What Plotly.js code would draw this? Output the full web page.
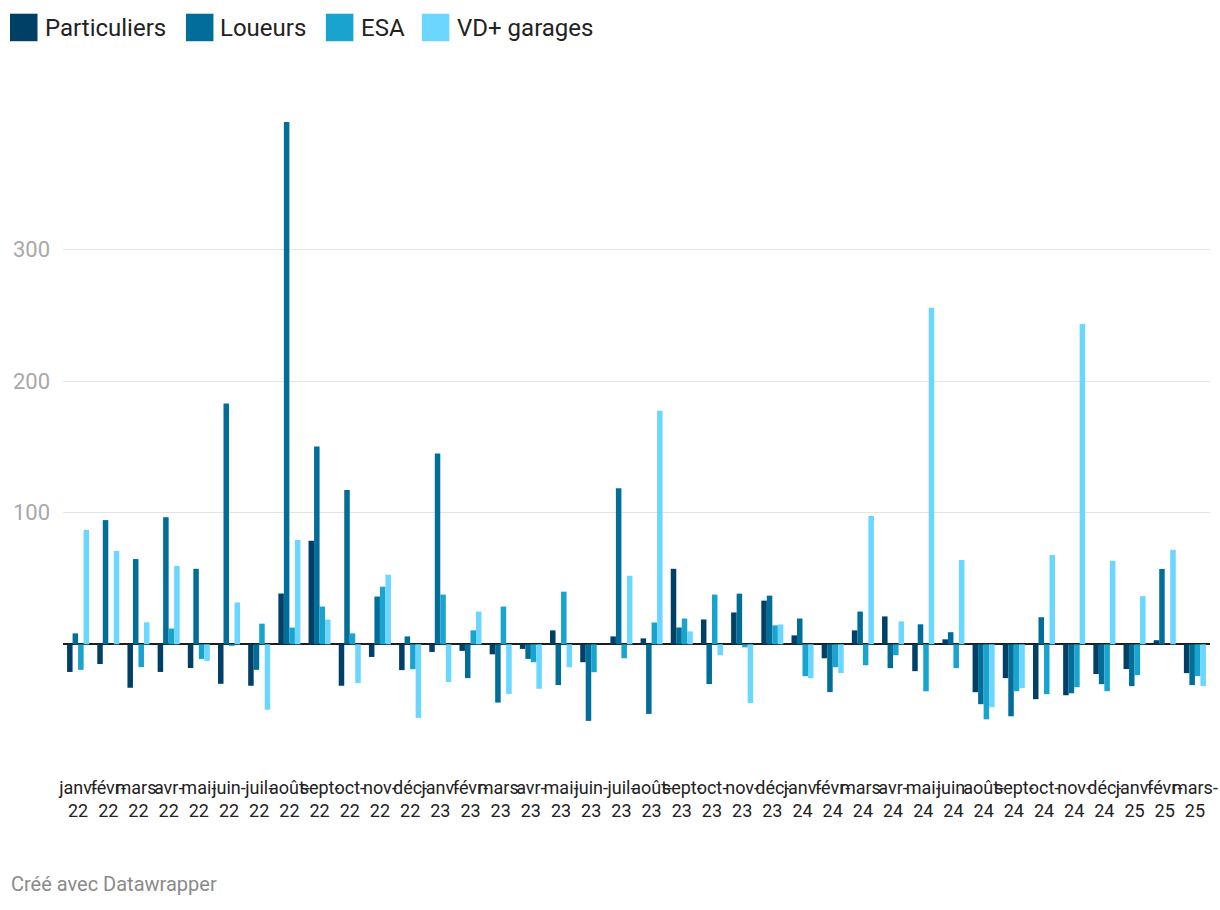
<!DOCTYPE html>
<html>
<head>
<meta charset="utf-8">
<script src="https://cdn.plot.ly/plotly-3.0.1.min.js"></script>
<style>
html,body{margin:0;padding:0;background:#fff;}
#chart{width:1220px;height:910px;}
</style>
</head>
<body>
<div id="chart"></div>
<script>
// Months (category keys) and their two-line tick labels
const months = ["janv-22","févr-22","mars-22","avr-22","mai-22","juin-22","juil-22","août-22","sept-22","oct-22","nov-22","déc-22",
  "janv-23","févr-23","mars-23","avr-23","mai-23","juin-23","juil-23","août-23","sept-23","oct-23","nov-23","déc-23",
  "janv-24","févr-24","mars-24","avr-24","mai-24","juin-24","août-24","sept-24","oct-24","nov-24","déc-24",
  "janv-25","févr-25","mars-25"];
const tickLabels = months.map(m => m.replace("-", "-<br>"));

const particuliers = [-21, -15, -33, -21, -18, -30, -31.5, 38.6, 78.7, -31.5, -9.6, -19.6,
  -5.8, -5, -7.6, -3.5, 10.6, -13.6, 6, 4.5, 57.4, 18.9, 24.2, 33.2,
  6.8, -10.6, 10.6, 21.2, -20.4, 3.8, -36.4, -25.7, -41.7, -38.7, -22.6,
  -18.8, 3.1, -21.9];
const loueurs = [8.3, 94.4, 64.8, 96.6, 57.4, 183, -19.4, 397, 150.3, 117.3, 36.3, 6,
  145, -25.7, -44.3, -11.1, -31, -58.2, 118.6, -52.9, 12.8, -30.2, 38.5, 37,
  19.6, -36.3, 24.9, -18.1, 15.2, 9.2, -45.5, -54.7, 20.6, -37.2, -30.3,
  -31.8, 57.3, -31];
const esa = [-19.4, null, -17.3, 12, -11.1, -1.2, 15.7, 12.7, 28.7, 8.3, 43.8, -18.9,
  37.8, 10.6, 28.7, -13.6, 40, -21.2, -10.6, 16.6, 19.6, 37.8, -2.3, 14.4,
  -24.2, -17.4, -15.9, -8.3, -35.7, -18.1, -57, -35.6, -37.9, -32.6, -35.6,
  -23.4, null, -24.2];
const vdGarages = [87, 71, 16.7, 59.6, -12.7, 31.8, -49.7, 79.3, 18.8, -29.5, 52.9, -55.9,
  -28.7, 24.9, -37.8, -33.8, -17.4, null, 52.1, 177.6, 9.8, -8.3, -44.6, 15.1,
  -25.7, -21.9, 97.5, 17.4, 255.7, 64.1, -47.8, -33.3, 67.9, 243.5, 63.4,
  36.6, 71.8, -31.8];

const seriesNames = ["Particuliers", "Loueurs", "ESA", "VD+ garages"];
const seriesValues = [particuliers, loueurs, esa, vdGarages];
const seriesColors = ["#003f66", "#006e98", "#19a3cf", "#6bd6ff"];
const yTicks = [100, 200, 300];

const traces = seriesNames.map((name, i) => ({
  type: "bar",
  name: name,
  x: months,
  y: seriesValues[i],
  marker: {color: seriesColors[i], line: {width: 0}},
  showlegend: false,
  hoverinfo: "x+y+name"
}));

// pixel geometry helpers
const W = 1220, H = 910;
const mL = 63, mR = 9.5, mT = 118.3, mB = 166.6;
const pw = W - mL - mR, ph = H - mT - mB;
const px = x => (x - mL) / pw;
const py = y => (H - mB - y) / ph;

// legend (key boxes + names), placed like the reference's header key
const legendBoxX = [10, 186, 326, 422];
const legendTextX = [43, 218, 359, 455];
const shapes = seriesNames.map((n, i) => ({
  type: "rect", xref: "paper", yref: "paper",
  x0: px(legendBoxX[i]), x1: px(legendBoxX[i] + 27.5),
  y0: py(41.5), y1: py(14),
  fillcolor: seriesColors[i], line: {width: 0}, layer: "above"
}));
const annotations = seriesNames.map((n, i) => ({
  text: n, xref: "paper", yref: "paper",
  x: px(legendTextX[i]), y: py(28),
  xanchor: "left", yanchor: "middle", showarrow: false,
  font: {size: 24, color: "#222222", family: "Roboto, sans-serif"}
}));
annotations.push({
  text: "Créé avec Datawrapper",
  xref: "paper", yref: "paper",
  x: px(9), y: py(884),
  xanchor: "left", yanchor: "middle",
  showarrow: false,
  font: {size: 20, color: "#8a8a8a", family: "Roboto, sans-serif"}
});

const layout = {
  width: W, height: H,
  margin: {l: mL, r: mR, t: mT, b: mB, pad: 0},
  paper_bgcolor: "#ffffff",
  plot_bgcolor: "#ffffff",
  font: {family: "Roboto, sans-serif", color: "#222222"},
  barmode: "group",
  bargap: 0.27,
  bargroupgap: 0,
  showlegend: false,
  xaxis: {
    type: "category",
    range: [-0.5, months.length - 0.5],
    tickmode: "array",
    tickvals: months,
    ticktext: tickLabels,
    tickangle: 0,
    ticks: "",
    showgrid: false,
    zeroline: false,
    showline: false,
    ticklabelstandoff: 32,
    tickfont: {size: 18, color: "#222222", family: "Roboto, sans-serif"},
    fixedrange: true
  },
  yaxis: {
    range: [-75, 400],
    tickmode: "array",
    tickvals: yTicks,
    ticktext: yTicks.map(String),
    ticks: "",
    showgrid: true,
    gridcolor: "#e5e5e5",
    gridwidth: 1,
    zeroline: true,
    zerolinecolor: "#1d1d1d",
    zerolinewidth: 2,
    showline: false,
    ticklabelstandoff: 12,
    tickfont: {size: 22, color: "#a8a8a8", family: "Roboto, sans-serif"},
    fixedrange: true
  },
  shapes: shapes,
  annotations: annotations
};

Plotly.newPlot("chart", traces, layout, {displayModeBar: false, staticPlot: true});
</script>
</body>
</html>
